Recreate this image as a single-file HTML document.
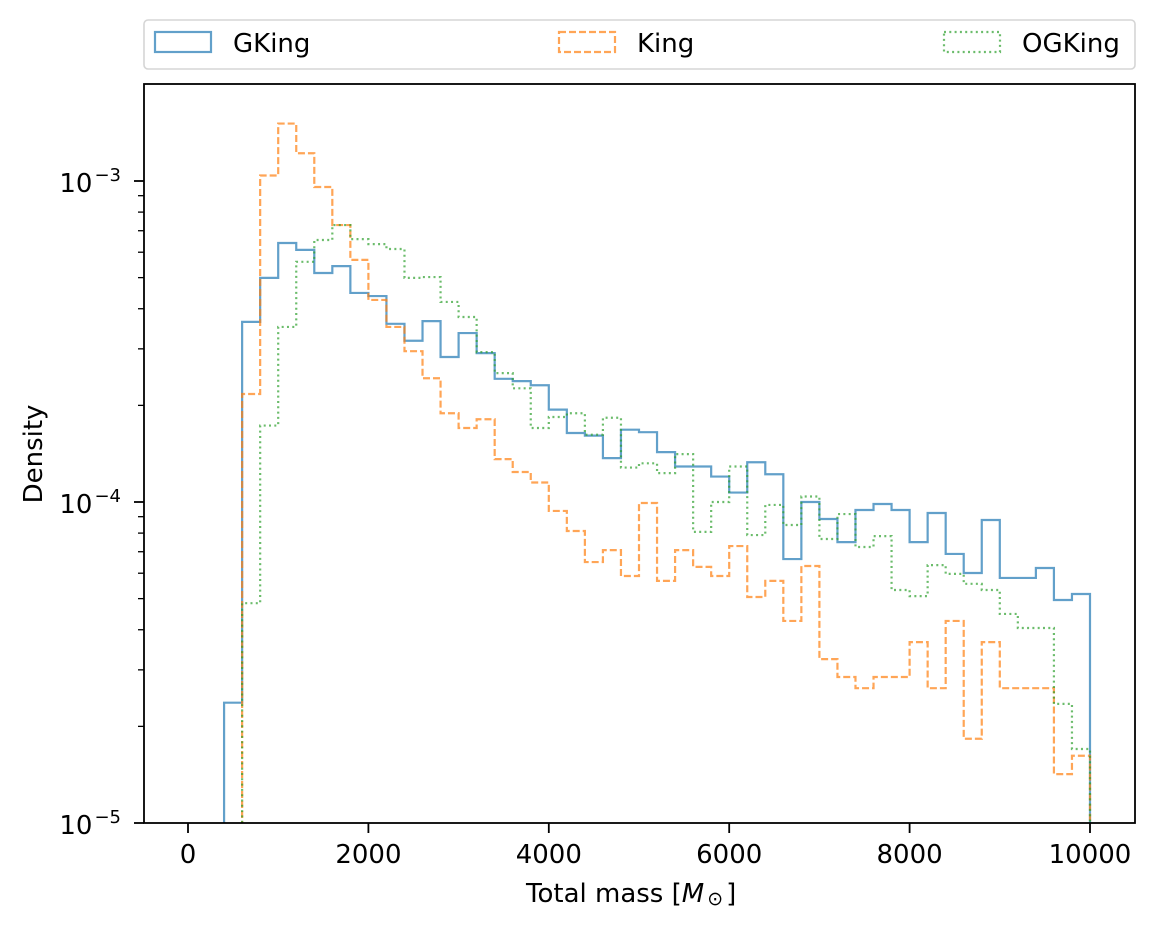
<!DOCTYPE html>
<html><head><meta charset="utf-8"><style>
body{margin:0;background:#fff}
svg{display:block;font-family:"DejaVu Sans","Liberation Sans",sans-serif}
</style></head><body>
<svg id="chart" width="1166" height="929" viewBox="0 0 1166 929" xmlns="http://www.w3.org/2000/svg">
<defs><clipPath id="pc"><rect x="144" y="85" width="991" height="738"/></clipPath></defs>
<rect width="1166" height="929" fill="#fff"/>
<g id="series" clip-path="url(#pc)"></g>
<rect x="144" y="84" width="991" height="739" fill="none" stroke="#000" stroke-width="1.8"/>
<g id="axes"></g>
<text x="526" y="902" font-size="26">Total mass [<tspan font-style="italic">M</tspan><tspan font-size="19" dx="3" dy="3">⊙</tspan><tspan dx="3" dy="-3">]</tspan></text>
<text transform="translate(42,454) rotate(-90)" font-size="26" text-anchor="middle">Density</text>
<g>
<rect x="144" y="20" width="991" height="49" fill="#fff" stroke="#d5d5d5" stroke-width="1.6" rx="4"/>
<g><rect x="155" y="32" width="56" height="20" fill="none" stroke="#1f77b4" stroke-opacity="0.7" stroke-width="2.2"/><text x="233" y="52" font-size="26">GKing</text></g>
<g><rect x="559" y="32" width="56" height="20" fill="none" stroke="#ff7f0e" stroke-opacity="0.7" stroke-width="2.2" stroke-dasharray="7,3"/><text x="637" y="52" font-size="26">King</text></g>
<g><rect x="944" y="32" width="56" height="20" fill="none" stroke="#2ca02c" stroke-opacity="0.7" stroke-width="2.2" stroke-dasharray="2,3.3"/><text x="1022" y="52" font-size="26">OGKing</text></g>
</g>
</svg>
<script>
const binWidth = 200;
const gkingStart = 400;
const gkingValues = [2.37e-5,3.64e-4,4.99e-4,6.41e-4,6.10e-4,5.17e-4,5.43e-4,4.48e-4,4.38e-4,3.59e-4,3.18e-4,3.66e-4,2.83e-4,3.36e-4,2.91e-4,2.42e-4,2.38e-4,2.31e-4,1.94e-4,1.64e-4,1.61e-4,1.37e-4,1.68e-4,1.65e-4,1.43e-4,1.29e-4,1.29e-4,1.20e-4,1.07e-4,1.33e-4,1.22e-4,6.64e-5,1.00e-4,8.85e-5,7.50e-5,9.44e-5,9.86e-5,9.44e-5,7.50e-5,9.24e-5,6.89e-5,6.01e-5,8.79e-5,5.80e-5,5.80e-5,6.23e-5,4.95e-5,5.17e-5];
const kingStart = 600;
const kingValues = [2.17e-4,1.04e-3,1.51e-3,1.22e-3,9.58e-4,7.29e-4,5.68e-4,4.26e-4,3.51e-4,2.95e-4,2.43e-4,1.89e-4,1.70e-4,1.81e-4,1.36e-4,1.24e-4,1.15e-4,9.38e-5,8.12e-5,6.50e-5,7.08e-5,5.88e-5,9.93e-5,5.68e-5,7.08e-5,6.28e-5,5.88e-5,7.29e-5,5.06e-5,5.68e-5,4.26e-5,6.32e-5,3.24e-5,2.85e-5,2.63e-5,2.85e-5,2.85e-5,3.66e-5,2.63e-5,4.26e-5,1.83e-5,3.66e-5,2.63e-5,2.63e-5,2.63e-5,1.42e-5,1.62e-5];
const ogkingStart = 600;
const ogkingValues = [4.84e-5,1.73e-4,3.51e-4,5.60e-4,6.55e-4,7.29e-4,6.59e-4,6.36e-4,6.14e-4,4.99e-4,5.02e-4,4.20e-4,3.77e-4,2.93e-4,2.52e-4,2.26e-4,1.70e-4,1.84e-4,1.89e-4,1.62e-4,1.83e-4,1.28e-4,1.32e-4,1.23e-4,1.41e-4,8.07e-5,1.00e-4,1.29e-4,7.89e-5,9.79e-5,8.48e-5,1.04e-4,7.67e-5,9.17e-5,7.24e-5,7.83e-5,5.32e-5,5.09e-5,6.36e-5,5.97e-5,5.56e-5,5.32e-5,4.48e-5,4.05e-5,4.05e-5,2.35e-5,1.70e-5];
const xTicks = [0,2000,4000,6000,8000,10000];
const yDecades = [-5,-4,-3];

const NS='http://www.w3.org/2000/svg';
const X0=188, X1=1090, XMIN=0, XMAX=10000;
const YB=823, DEC=321, YMINLOG=-5;
function xs(v){return X0+(v-XMIN)/(XMAX-XMIN)*(X1-X0);}
function ys(v){return YB-(Math.log10(v)-YMINLOG)*DEC;}
function mk(tag,attrs,parent){const e=document.createElementNS(NS,tag);for(const k in attrs)e.setAttribute(k,attrs[k]);parent.appendChild(e);return e;}
const series=document.getElementById('series'), axes=document.getElementById('axes');

function drawHist(start,vals,color,dash,name){
  let d='M'+xs(start)+','+(YB+5);
  vals.forEach((v,i)=>{const x0=xs(start+i*binWidth),x1=xs(start+(i+1)*binWidth),y=ys(v);d+=' L'+x0+','+y+' L'+x1+','+y;});
  d+=' L'+xs(start+vals.length*binWidth)+','+(YB+5);
  const p=mk('path',{d:d,fill:'none',stroke:color,'stroke-opacity':0.7,'stroke-width':2.2},series);
  if(dash)p.setAttribute('stroke-dasharray',dash);
  
  
}
drawHist(gkingStart,gkingValues,'#1f77b4',null,'gking-histogram');
drawHist(kingStart,kingValues,'#ff7f0e','7,3','king-histogram');
drawHist(ogkingStart,ogkingValues,'#2ca02c','2,3.3','ogking-histogram');

xTicks.forEach(t=>{
  const x=xs(t);
  const l=mk('line',{x1:x,x2:x,y1:823,y2:833,stroke:'#000','stroke-width':1.8},axes);
  
  
  const tx=mk('text',{x:x,y:863,'font-size':26,'text-anchor':'middle'},axes);
  tx.textContent=t;
  
  
});
yDecades.forEach(e=>{
  const y=ys(Math.pow(10,e));
  const l=mk('line',{x1:134,x2:144,y1:y,y2:y,stroke:'#000','stroke-width':1.8},axes);
  
  
  const tx=mk('text',{x:121,y:y+11,'font-size':26,'text-anchor':'end'},axes);
  tx.innerHTML='10<tspan font-size="18" dx="2" dy="-11">−'+(-e)+'</tspan>';
  
  
  for(let m=2;m<10;m++){
    const v=m*Math.pow(10,e), yy=ys(v);
    if(yy<85)continue;
    const ml=mk('line',{x1:138,x2:144,y1:yy,y2:yy,stroke:'#000','stroke-width':1.3},axes);
    
    
  }
});
</script>
</body></html>
